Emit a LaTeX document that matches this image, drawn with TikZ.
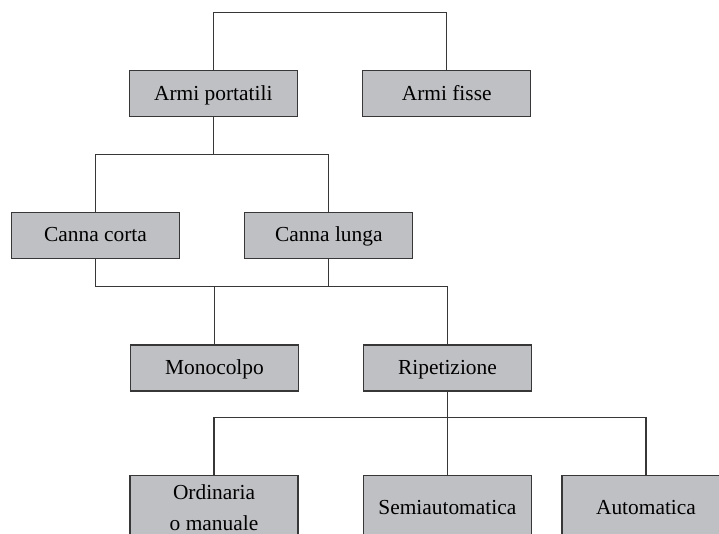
\documentclass[tikz,border=0pt]{standalone}
\usepackage{fontspec}
\setmainfont{Liberation Serif}
\usepackage{tikz}

\definecolor{boxgray}{RGB}{191,192,196}
\definecolor{linegray}{RGB}{55,55,55}

\begin{document}
\begin{tikzpicture}[x=0.5pt, y=-0.5pt,
    box/.style={draw=linegray, line width=0.6pt, fill=boxgray,
        minimum width=84pt, minimum height=23pt, inner sep=0pt,
        text height=0.66em, text depth=0pt,
        align=center, font=\fontsize{10.7}{15.8}\selectfont},
    lowbox/.style={box, minimum height=32.5pt},
    link/.style={draw=linegray, line width=0.6pt}]
    % The frame of the page
    \clip (0, 0) rectangle (719, 534);

    % Bus heights
    \coordinate (busA) at (0, 12.7);
    \coordinate (busB) at (0, 154.5);
    \coordinate (busC) at (0, 286.7);
    \coordinate (busD) at (0, 417.7);

    % First level
    \node[box] (portatili) at (213.3, 93.7) {Armi portatili};
    \node[box] (fisse) at (446.7, 93.7) {Armi fisse};

    % Second level
    \node[box] (corta) at (95.5, 235.3) {Canna corta};
    \node[box] (lunga) at (328.8, 235.3) {Canna lunga};

    % Third level
    \node[box] (monocolpo) at (214.5, 368) {Monocolpo};
    \node[box] (ripetizione) at (447.5, 368) {Ripetizione};

    % Fourth level
    \node[lowbox, text height=, text depth=] (ordinaria) at (214, 507.8) {Ordinaria\\o manuale};
    \node[lowbox] (semiauto) at (447.3, 507.8) {Semiautomatica};
    \node[lowbox] (automatica) at (646, 507.8) {Automatica};

    % Connectors
    \draw[link] (portatili.north) |- (busA -| fisse.north) -- (fisse.north);
    \draw[link] (portatili.south) -- (busB -| portatili.south);
    \draw[link] (corta.north) |- (busB -| lunga.north) -- (lunga.north);
    \draw[link] (corta.south) |- (busC -| ripetizione.north) -- (ripetizione.north);
    \draw[link] (lunga.south) -- (busC -| lunga.south);
    \draw[link] (monocolpo.north) -- (busC -| monocolpo.north);
    \draw[link] (ripetizione.south) -- (busD -| ripetizione.south);
    \draw[link] (ordinaria.north) |- (busD -| automatica.north) -- (automatica.north);
    \draw[link] (semiauto.north) -- (busD -| semiauto.north);
\end{tikzpicture}
\end{document}
